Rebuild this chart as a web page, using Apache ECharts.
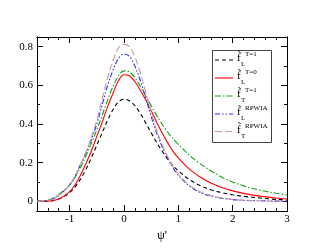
<!DOCTYPE html>
<html>
<head>
<meta charset="utf-8">
<script src="https://cdn.jsdelivr.net/npm/echarts@6/dist/echarts.min.js"></script>
<style>
html,body{margin:0;padding:0;background:#fff;}
#c{width:323px;height:249px;}
</style>
</head>
<body>
<div id="c"></div>
<script>
// ---- data ----
var xs = [-1.6,-1.4,-1.2,-1.0,-0.9,-0.8,-0.7,-0.6,-0.5,-0.4,-0.3,-0.2,-0.1,0,0.1,0.2,0.3,0.4,0.5,0.6,0.7,0.8,0.9,1.0,1.2,1.4,1.6,1.8,2.0,2.2,2.5,2.8,3.0];
var fL_T1 = [0,0.001,0.012,0.045,0.075,0.115,0.165,0.225,0.29,0.355,0.42,0.475,0.515,0.528,0.52,0.495,0.455,0.405,0.355,0.305,0.26,0.22,0.185,0.158,0.113,0.082,0.06,0.045,0.034,0.026,0.017,0.01,0.007];
var fL_T0 = [0,0.001,0.012,0.05,0.085,0.135,0.195,0.26,0.335,0.41,0.49,0.56,0.625,0.655,0.65,0.62,0.575,0.525,0.47,0.41,0.355,0.305,0.26,0.225,0.168,0.126,0.095,0.072,0.054,0.041,0.027,0.017,0.012];
var fT_T1 = [0,0.006,0.035,0.085,0.125,0.175,0.235,0.3,0.37,0.445,0.525,0.595,0.65,0.675,0.67,0.64,0.595,0.545,0.495,0.445,0.4,0.36,0.325,0.295,0.24,0.195,0.158,0.125,0.1,0.08,0.058,0.042,0.033];
var fL_RPWIA = [0,0.004,0.03,0.085,0.13,0.19,0.25,0.32,0.4,0.5,0.6,0.68,0.74,0.762,0.75,0.7,0.625,0.535,0.44,0.355,0.285,0.225,0.175,0.135,0.08,0.046,0.027,0.016,0.009,0.005,0.003,0.001,0.001];
var fT_RPWIA = [0,0.004,0.03,0.085,0.13,0.19,0.255,0.33,0.42,0.53,0.64,0.73,0.795,0.812,0.8,0.75,0.665,0.565,0.46,0.37,0.295,0.235,0.18,0.14,0.085,0.05,0.03,0.018,0.01,0.006,0.003,0.001,0.001];

var seriesSub = ['L','L','T','L','T'];
var seriesSup = ['T=1','T=0','T=1','RPWIA','RPWIA'];
var xMajorTicks = [-1,0,1,2,3];
var xMinorTicks = [-1.4,-1.2,-0.8,-0.6,-0.4,-0.2,0.2,0.4,0.6,0.8,1.2,1.4,1.6,1.8,2.2,2.4,2.6,2.8];
var yMajorTicks = [0,0.2,0.4,0.6,0.8];
var yMinorTicks = [0.1,0.3,0.5,0.7];
var xLabel = "\u03c8'";

// ---- styles ----
var allData = [fL_T1, fL_T0, fT_T1, fL_RPWIA, fT_RPWIA];
var colors = ['#000000','#ff0000','#13a013','#2a2aff','#c89a9a'];
var dashes = [[4,3],'solid',[6,2,1.5,2],[5,2,1.5,2,1.5,2],[7,3]];
var FONT = 'Liberation Serif';

var chart = echarts.init(document.getElementById('c'), null, {renderer:'canvas'});

function xAxisDef(pos, ticks, len, labels){
  return {
    type:'value', position: pos, min:-1.6, max:3, interval:0.2, gridIndex:0,
    axisLine:{show:true, onZero:false, lineStyle:{color:'#000', width:1}},
    axisTick:{show:true, inside:true, length:len, customValues:ticks, lineStyle:{color:'#000'}},
    axisLabel:{show:labels, customValues:ticks, fontFamily:FONT, fontSize:11, color:'#000', margin:3,
      formatter:function(v){return String(Math.round(v));}},
    splitLine:{show:false},
    name: (labels ? xLabel : ''), nameLocation:'middle', nameGap:15,
    nameTextStyle:{fontFamily:FONT, fontSize:12, color:'#000'}
  };
}
function yAxisDef(pos, ticks, len, labels){
  return {
    type:'value', position: pos, min:-0.05, max:0.85, interval:0.05, gridIndex:0,
    axisLine:{show:true, onZero:false, lineStyle:{color:'#000', width:1}},
    axisTick:{show:true, inside:true, length:len, customValues:ticks, lineStyle:{color:'#000'}},
    axisLabel:{show:labels, customValues:ticks, fontFamily:FONT, fontSize:11, color:'#000', margin:4,
      formatter:function(v){return v===0?'0':(Math.round(v*10)/10).toString();}},
    splitLine:{show:false}
  };
}

var series = allData.map(function(ys,i){
  return {
    type:'line', xAxisIndex:0, yAxisIndex:0, smooth:0.35, symbol:'none',
    data: xs.map(function(x,k){return [x, ys[k]];}),
    lineStyle:{color:colors[i], width:1.1, type:dashes[i]},
    z: 2 + i
  };
});

// legend built with graphic elements
var legendGraphic = [];
var lx = 212, ly = 50, lw = 59, lh = 92;
legendGraphic.push({type:'rect', shape:{x:lx+0.5,y:ly+0.5,width:lw,height:lh}, style:{fill:'#fff', stroke:'#444', lineWidth:1}, z:100});
var rowY = [60, 78, 96, 114, 131.5];
for (var i=0;i<5;i++){
  var yy = rowY[i];
  legendGraphic.push({type:'line', shape:{x1:215,y1:yy,x2:233,y2:yy},
    style:{stroke:colors[i], lineWidth:1.1, lineDash:(dashes[i]==='solid'?null:dashes[i])}, z:101});
  legendGraphic.push({type:'text', x:237, y:yy-7, style:{text:'f\u0303', font:'11px "'+FONT+'"', fill:'#000'}, z:101});
  legendGraphic.push({type:'text', x:241, y:yy+1, style:{text:seriesSub[i], font:'7px "'+FONT+'"', fill:'#000'}, z:101});
  legendGraphic.push({type:'text', x:245, y:yy-9, style:{text:seriesSup[i], font:'7px "'+FONT+'"', fill:'#000'}, z:101});
}

chart.setOption({
  animation:false,
  backgroundColor:'#fff',
  grid:{left:37, right:36, top:37, bottom:38, containLabel:false},
  xAxis:[
    xAxisDef('bottom', xMajorTicks, 6, true),
    xAxisDef('bottom', xMinorTicks, 3, false),
    xAxisDef('top', xMajorTicks, 6, false),
    xAxisDef('top', xMinorTicks, 3, false)
  ],
  yAxis:[
    yAxisDef('left', yMajorTicks, 6, true),
    yAxisDef('left', yMinorTicks, 3, false),
    yAxisDef('right', yMajorTicks, 6, false),
    yAxisDef('right', yMinorTicks, 3, false)
  ],
  series: series,
  graphic: legendGraphic
});
</script>
</body>
</html>
